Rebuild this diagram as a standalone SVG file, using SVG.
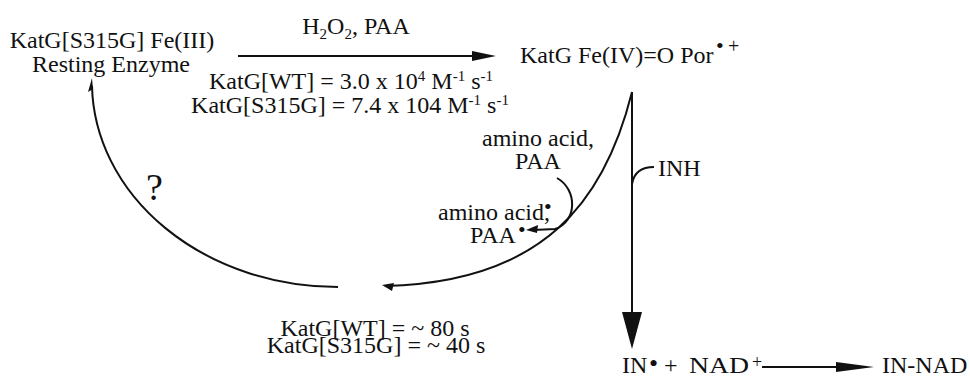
<svg xmlns="http://www.w3.org/2000/svg" width="970" height="377" viewBox="0 0 970 377">
<style>
text{font-family:"Liberation Serif","Times New Roman",serif;font-size:24px;fill:#111}
.c{text-anchor:middle}
.ln{fill:none;stroke:#111;stroke-width:2}
.ah{fill:#111}
.sm{font-size:15px}
.b{font-size:22px}
.q{font-size:38px}
.bb{font-size:26px}
.p20{font-size:20px}
.p18{font-size:18px}
</style>
<rect width="970" height="377" fill="#fff"/>
<g id="resting">
<text x="112" y="48" class="c">KatG[S315G] Fe(III)</text>
<text x="111" y="72" class="c">Resting Enzyme</text>
</g>
<g id="compoundI">
<text x="520" y="63">KatG Fe(IV)=O Por</text>
<text x="716" y="53" class="b">•</text>
<text x="728" y="53" class="p20">+</text>
</g>
<g id="rate-labels">
<text x="356" y="34" class="c">H<tspan class="sm" dy="5">2</tspan><tspan dy="-5">O</tspan><tspan class="sm" dy="5">2</tspan><tspan dy="-5">, PAA</tspan></text>
<text x="351" y="89" class="c">KatG[WT] = 3.0 x 10<tspan class="sm" dy="-8">4</tspan><tspan dy="8"> M</tspan><tspan class="sm" dy="-8">-1</tspan><tspan dy="8"> s</tspan><tspan class="sm" dy="-8">-1</tspan></text>
<text x="350" y="113" class="c">KatG[S315G] = 7.4 x 104 M<tspan class="sm" dy="-8">-1</tspan><tspan dy="8"> s</tspan><tspan class="sm" dy="-8">-1</tspan></text>
</g>
<g id="aminoacid">
<text x="538" y="146" class="c">amino acid,</text>
<text x="538" y="169" class="c">PAA</text>
<text x="438" y="220">amino acid,</text>
<text x="544" y="214" class="b">•</text>
<text x="470" y="243">PAA</text>
<text x="518" y="237" class="b">•</text>
</g>
<g id="question">
<text x="146" y="200" class="q">?</text>
</g>
<g id="times">
<text x="375" y="336" class="c">KatG[WT] = ~ 80 s</text>
<text x="376" y="353" class="c">KatG[S315G] = ~ 40 s</text>
</g>
<g id="inh">
<text x="658" y="176">INH</text>
</g>
<g id="products">
<text x="622" y="373">IN</text>
<text x="649" y="372" class="bb">•</text>
<text x="664" y="373">+</text>
<text x="689" y="373" textLength="60" lengthAdjust="spacingAndGlyphs">NAD</text>
<text x="752" y="368" class="p18">+</text>
</g>
<g id="in-nad">
<text x="882" y="373">IN-NAD</text>
</g>
<g id="connectors">
<line class="ln" x1="238" y1="56" x2="478" y2="56"/>
<polygon class="ah" points="496,56 472,51 472,61"/>
<path class="ln" d="M632,92 C605,200 545,282 385,286"/>
<polygon class="ah" points="382,285 394,283 392,291"/>
<path class="ln" d="M338,287 A246,205 0 0 1 92,86"/>
<polygon class="ah" points="92,78 88,92 93,89"/>
<line class="ln" x1="632" y1="92" x2="632" y2="318"/>
<polygon class="ah" points="622,312 642,312 632,349"/>
<path class="ln" d="M632,184 C634,172 642,167 654,167"/>
<path class="ln" stroke-width="1.6" d="M557,178 C578,190 577,222 555,229 L533,230"/>
<polygon class="ah" points="526,230 538,225 537,233"/>
<line class="ln" x1="762" y1="367" x2="842" y2="367"/>
<polygon class="ah" points="874,367 836,362 836,372"/>
</g>
</svg>
